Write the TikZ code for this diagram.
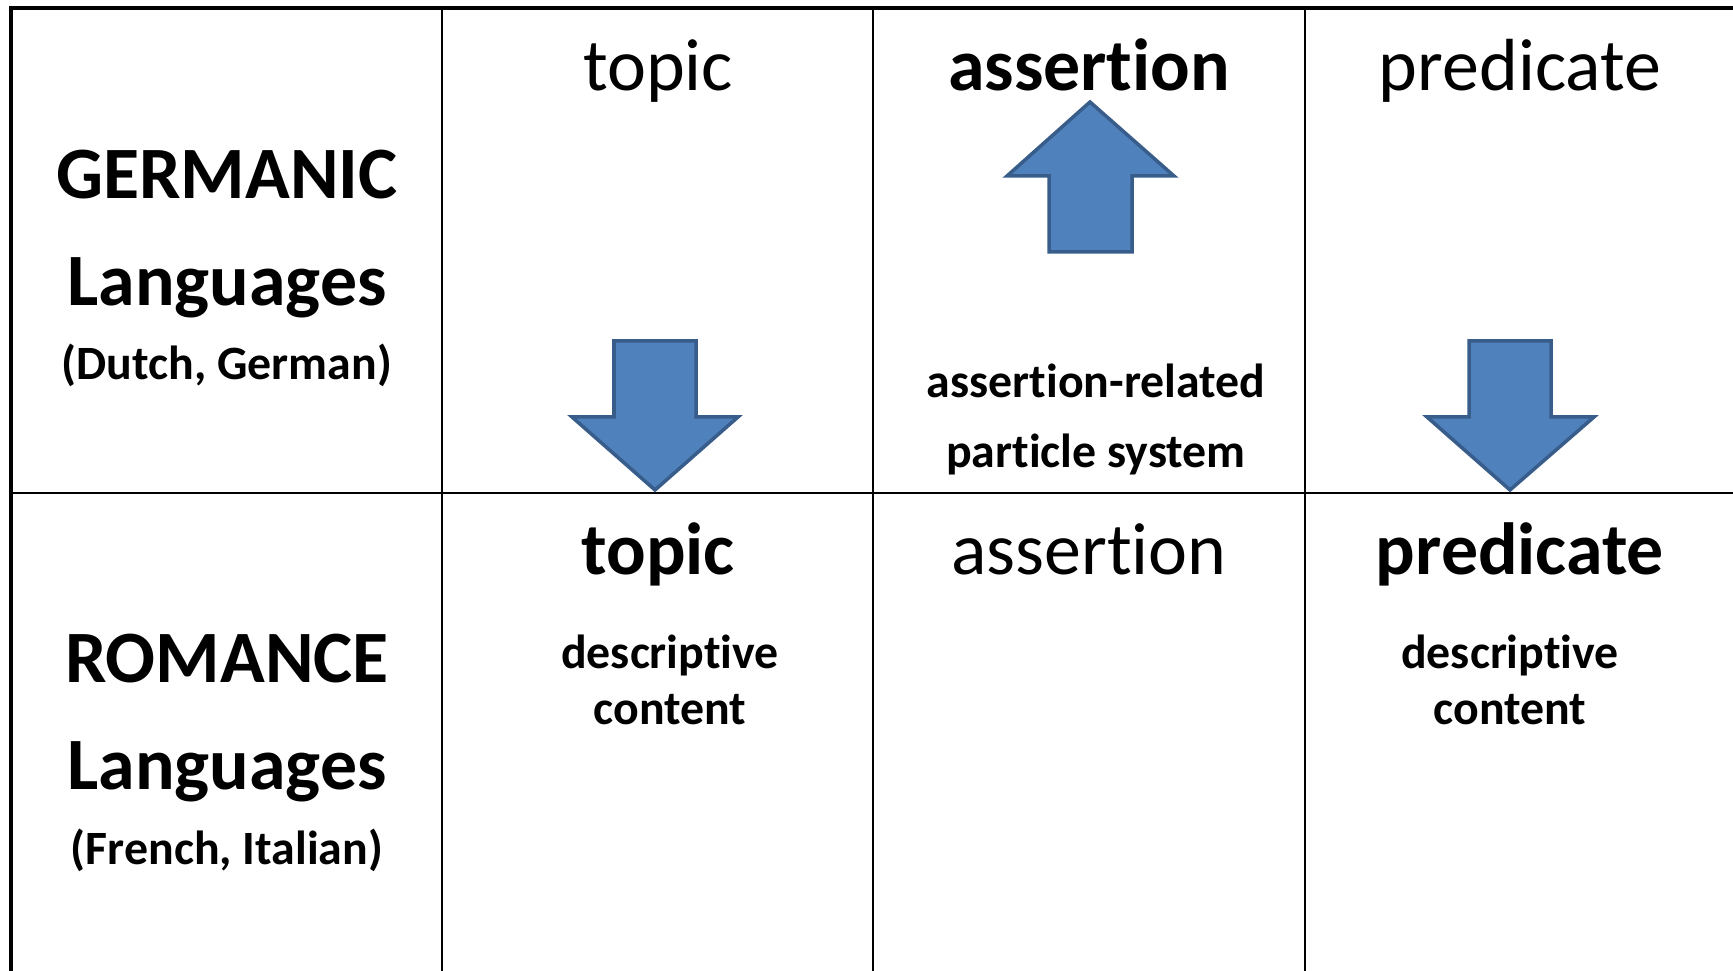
\documentclass[tikz,border=0pt]{standalone}
\usepackage{fontspec}
\setmainfont{Carlito}[Ligatures=NoCommon]
\usepackage{xcolor}
\definecolor{arrowfill}{HTML}{4F81BD}
\definecolor{arrowline}{HTML}{385D8A}

\tikzset{
  big/.style={font=\fontsize{21}{25}\selectfont, anchor=base, inner sep=0pt},
  bigbold/.style={font=\fontsize{21}{25}\selectfont\bfseries, anchor=base, inner sep=0pt},
  smallbold/.style={font=\fontsize{13.6}{16}\selectfont\bfseries, anchor=base, inner sep=0pt},
  blockarrow/.style={fill=arrowfill, draw=arrowline, line width=1pt, line join=miter}
}

\begin{document}
\begin{tikzpicture}[x=0.01cm, y=-0.01cm]
    \useasboundingbox (0,0) rectangle (1733,971);

    % Grid points
    \coordinate (tl) at (11,8);
    \coordinate (tr) at (1733,8);
    \coordinate (bl) at (11,971);
    \coordinate (ml) at (11,493);
    \coordinate (mr) at (1733,493);

    % Outer border (top and left)
    \draw[line width=1.15pt] (bl) -- (tl) -- (tr);

    % Middle horizontal line
    \draw[line width=0.7pt] (ml) -- (mr);

    % Vertical column lines
    \foreach \x/\n in {442/a, 873/b, 1305/c} {
        \coordinate (top\n) at (\x,8);
        \coordinate (bot\n) at (\x,971);
        \draw[line width=0.6pt] (top\n) -- (bot\n);
    }

    % Row labels
    \node[bigbold] (germ) at (227,199) {GERMANIC};
    \node[bigbold] (germlang) at (227,306) {Languages};
    \node[smallbold] (germex) at (227,380) {(Dutch, German)};
    \node[bigbold] (rom) at (227,683) {ROMANCE};
    \node[bigbold] (romlang) at (227,790) {Languages};
    \node[smallbold] (romex) at (227,865) {(French, Italian)};

    % Top row
    \node[big] (gtopic) at (658,91) {topic};
    \node[bigbold] (gassert) at (1089,91) {assertion};
    \node[big] (gpred) at (1520,91) {predicate};
    \node[smallbold] (particle1) at (1096,398) {assertion-related};
    \node[smallbold] (particle2) at (1096,468) {particle system};

    % Bottom row
    \node[bigbold] (rtopic) at (658,575) {topic};
    \node[big] (rassert) at (1089,575) {assertion};
    \node[bigbold] (rpred) at (1520,575) {predicate};
    \node[smallbold] (rdesc1) at (670,669) {descriptive};
    \node[smallbold] (rdesc2) at (670,725) {content};
    \node[smallbold] (pdesc1) at (1510,669) {descriptive};
    \node[smallbold] (pdesc2) at (1510,725) {content};

    % Block arrows
    \draw[blockarrow] (614,341) -- (696,341) -- (696,417) -- (738,417)
        -- (655,490) -- (572,417) -- (614,417) -- cycle; % topic down
    \draw[blockarrow] (1049,252) -- (1132,252) -- (1132,176) -- (1174,176)
        -- (1090,102) -- (1007,176) -- (1049,176) -- cycle; % assertion up
    \draw[blockarrow] (1469,341) -- (1551,341) -- (1551,417) -- (1594,417)
        -- (1510,490) -- (1427,417) -- (1469,417) -- cycle; % predicate down
\end{tikzpicture}
\end{document}
